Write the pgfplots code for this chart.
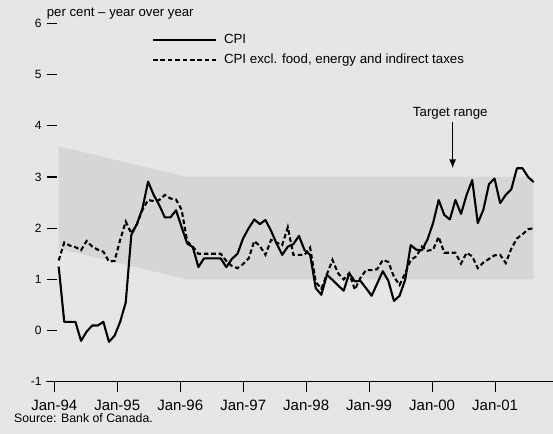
\documentclass[border=0pt]{standalone}
\usepackage{fontspec}
\setmainfont{Liberation Sans}
\usepackage{pgfplots}
\usepackage{pgfplotstable}
\pgfplotsset{compat=1.18}
\usetikzlibrary{arrows.meta}
\definecolor{bg}{RGB}{230,230,230}
\definecolor{band}{RGB}{214,214,214}

\pgfplotstableread{
i v
0 1.25
1 0.17
2 0.17
3 0.17
4 -0.2
5 -0.02
6 0.1
7 0.1
8 0.17
9 -0.22
10 -0.1
11 0.17
12 0.55
13 1.87
14 2.08
15 2.39
16 2.91
17 2.65
18 2.45
19 2.21
20 2.21
21 2.35
22 2.02
23 1.7
24 1.63
25 1.24
26 1.41
27 1.41
28 1.41
29 1.41
30 1.24
31 1.4
32 1.5
33 1.8
34 2.0
35 2.17
36 2.08
37 2.16
38 1.95
39 1.7
40 1.48
41 1.64
42 1.69
43 1.85
44 1.57
45 1.48
46 0.83
47 0.7
48 1.09
49 0.99
50 0.88
51 0.78
52 1.12
53 0.96
54 0.97
55 0.83
56 0.68
57 0.92
58 1.16
59 0.97
60 0.58
61 0.68
62 0.99
63 1.67
64 1.58
65 1.57
66 1.78
67 2.1
68 2.55
69 2.26
70 2.17
71 2.55
72 2.28
73 2.65
74 2.94
75 2.1
76 2.36
77 2.86
78 2.97
79 2.49
80 2.65
81 2.76
82 3.17
83 3.17
84 3.0
85 2.9
}\cpi

\pgfplotstableread{
i v
0 1.37
1 1.72
2 1.66
3 1.63
4 1.57
5 1.75
6 1.64
7 1.58
8 1.54
9 1.35
10 1.36
11 1.77
12 2.13
13 1.9
14 2.08
15 2.36
16 2.55
17 2.53
18 2.55
19 2.65
20 2.58
21 2.56
22 2.36
23 1.74
24 1.64
25 1.5
26 1.5
27 1.5
28 1.5
29 1.5
30 1.36
31 1.26
32 1.22
33 1.3
34 1.41
35 1.75
36 1.65
37 1.48
38 1.77
39 1.72
40 1.67
41 2.02
42 1.48
43 1.48
44 1.48
45 1.62
46 0.95
47 0.82
48 1.1
49 1.38
50 1.12
51 1.0
52 1.12
53 0.8
54 1.03
55 1.18
56 1.18
57 1.2
58 1.38
59 1.34
60 1.05
61 0.89
62 1.12
63 1.38
64 1.45
65 1.64
66 1.56
67 1.58
68 1.83
69 1.52
70 1.52
71 1.52
72 1.31
73 1.52
74 1.45
75 1.22
76 1.33
77 1.4
78 1.47
79 1.48
80 1.32
81 1.6
82 1.8
83 1.88
84 1.98
85 2.0
}\cpix

\begin{document}
\begin{tikzpicture}
\useasboundingbox (0,0) rectangle (553bp,434bp);
\fill[bg] (0,0) rectangle (553bp,434bp);
\node[anchor=base west, inner sep=0pt, font=\fontsize{12.3bp}{14bp}\selectfont] at (14bp,11.5bp) {Source: Bank of Canada.};
\node[anchor=base west, inner sep=0pt, font=\fontsize{13.2bp}{15bp}\selectfont] at (46.7bp,417.3bp) {per cent -- year over year};
\begin{axis}[
  at={(46bp,52.2bp)}, anchor=south west,
  scale only axis, width=507bp, height=358.4bp,
  xmin=-2.27, xmax=88.46, ymin=-1, ymax=6,
  axis lines*=left,
  x axis line style={-, line width=1.2bp},
  y axis line style={draw=none},
  tick align=outside,
  major tick length=10bp,
  tick style={line width=1.2bp, black},
  ytick={-1,0,1,2,3,4,5,6},
  ytick style={xshift=11bp},
  xtick={-0.79,10.48,21.75,33.02,44.29,55.56,66.83,78.10},
  xticklabels={Jan-94,Jan-95,Jan-96,Jan-97,Jan-98,Jan-99,Jan-00,Jan-01},
  xticklabel style={font=\fontsize{15bp}{18bp}\selectfont, yshift=-5bp},
  yticklabel style={font=\fontsize{12bp}{14bp}\selectfont, xshift=9bp},
  /pgf/number format/assume math mode=true,
  legend cell align=left,
  legend style={at={(0.2085,0.9716)}, anchor=north west, draw=none, fill=none,
    inner sep=0pt, row sep=6.5bp,
    font=\fontsize{13.3bp}{16bp}\selectfont,
    nodes={inner sep=0pt, text height=10bp, text depth=3bp},
    /tikz/every odd column/.append style={column sep=7bp}},
  legend image code/.code={\draw[#1] (0bp,0bp) -- (63bp,0bp);},
]
\addplot[fill=band, draw=none, forget plot] coordinates {(0,3.6) (23,3) (85,3) (85,1) (23,1) (0,1.6)} -- cycle;
\addplot[black, line width=2.1bp, line join=round] table[x=i, y=v] {\cpi};
\addlegendentry{CPI}
\addplot[black, line width=2.1bp, dash pattern=on 4.6bp off 2.8bp] table[x=i, y=v] {\cpix};
\addlegendentry{CPI excl. food, energy and indirect taxes}
\node[anchor=base, inner sep=0pt, font=\fontsize{13.3bp}{16bp}\selectfont] at (axis cs:70.08,4.18) {Target range};
\draw[line width=1.1bp, -{Latex[length=9bp,width=7bp]}] (axis cs:70.5,4.08) -- (axis cs:70.5,3.17);
\end{axis}
\end{tikzpicture}
\end{document}
